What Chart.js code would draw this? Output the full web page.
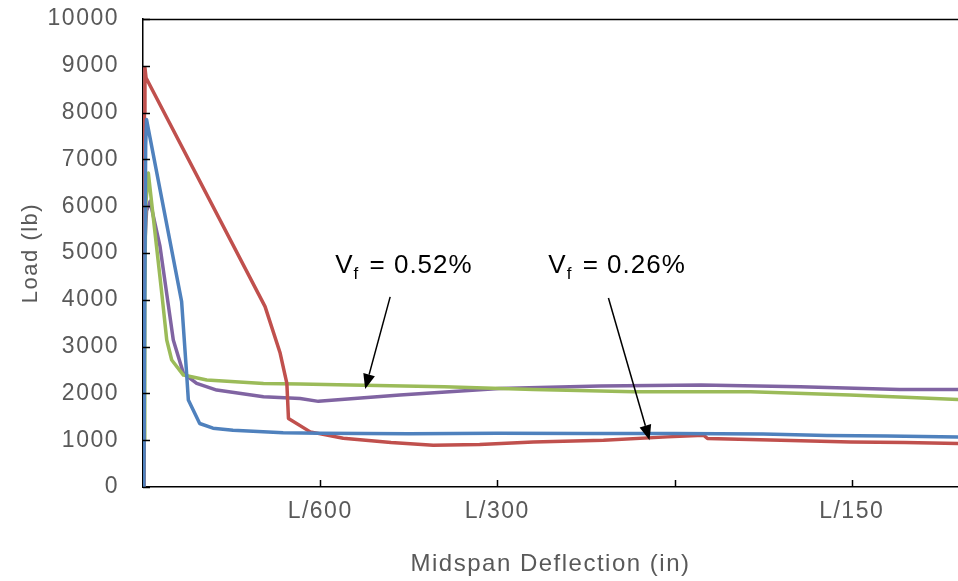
<!DOCTYPE html>
<html>
<head>
<meta charset="utf-8">
<script src="https://cdn.jsdelivr.net/npm/chart.js@4.4.1/dist/chart.umd.min.js"></script>
<style>
  html, body { margin: 0; padding: 0; background: #ffffff; }
  #wrap { width: 958px; height: 581px; position: relative; }
</style>
</head>
<body>
<div id="wrap"><canvas id="c" width="958" height="581"></canvas></div>
<script>
// ---- data (x in units of L/600 deflection, y in lb) ----
const blueX  = [0.005, 0.010, 0.015, 0.020, 0.218, 0.246, 0.256, 0.320, 0.395, 0.508, 0.791, 1.000, 1.500, 2.000, 2.500, 3.000, 3.500, 3.860, 4.200, 4.600];
const blueY  = [0, 4000, 7300, 7850, 3962, 2435, 1857, 1357, 1257, 1214, 1157, 1150, 1140, 1150, 1145, 1143, 1130, 1100, 1090, 1071];

const redX   = [0.003, 0.005, 0.008, 0.011, 0.017, 0.689, 0.774, 0.812, 0.821, 0.944, 1.130, 1.400, 1.638, 1.900, 2.203, 2.599, 2.960, 3.164, 3.186, 3.600, 3.994, 4.300, 4.600];
const redY   = [0, 4000, 8000, 8960, 8745, 3854, 2863, 2214, 1464, 1178, 1043, 950, 893, 910, 964, 1000, 1071, 1107, 1036, 1000, 964, 950, 929];

const greenX = [0.003, 0.006, 0.010, 0.015, 0.030, 0.106, 0.134, 0.162, 0.228, 0.360, 0.680, 0.887, 1.170, 1.700, 2.203, 2.770, 3.430, 3.990, 4.300, 4.600];
const greenY = [0, 1000, 4000, 6000, 6710, 4141, 3141, 2713, 2392, 2285, 2214, 2199, 2178, 2140, 2085, 2035, 2035, 1964, 1920, 1871];

const purpleX = [0.000, 0.003, 0.008, 0.020, 0.040, 0.096, 0.171, 0.228, 0.303, 0.416, 0.680, 0.887, 0.990, 1.450, 2.010, 2.580, 3.150, 3.710, 4.270, 4.600];
const purpleY = [0, 3000, 5000, 5900, 6103, 5139, 3141, 2428, 2214, 2071, 1927, 1892, 1830, 1964, 2107, 2157, 2178, 2142, 2085, 2085];

const xTickValues = [1, 2, 3, 4];
const xTickLabels = ['L/600', 'L/300', '', 'L/150'];
const yTickValues = [0, 1000, 2000, 3000, 4000, 5000, 6000, 7000, 8000, 9000, 10000];

const seriesNames = ['Blue', 'Red', 'Green', 'Purple'];
const annotationLabels = ['0.52%', '0.26%'];

function pts(xs, ys) { return xs.map((x, i) => ({ x: x, y: ys[i] })); }

const GRAY = '#595959';
const FONT = "'Liberation Sans', Arial, sans-serif";

// annotations (in data units)
const notes = [
  { tx: 1.085, ty: 4576, label: annotationLabels[0], ax0: 1.395, ay0: 4062, ax1: 1.254, ay1: 2092 },
  { tx: 2.288, ty: 4576, label: annotationLabels[1], ax0: 2.627, ay0: 4040, ax1: 2.859, ay1: 1000 }
];

const decor = {
  id: 'decor',
  beforeLayout(chart) { chart.ctx.letterSpacing = '1.5px'; },
  beforeDraw(chart) { chart.ctx.letterSpacing = '1.5px'; },
  afterDatasetsDraw(chart) {
    const ctx = chart.ctx, a = chart.chartArea;
    const xs = chart.scales.x, ys = chart.scales.y;
    ctx.save();
    ctx.letterSpacing = '0px';
    ctx.strokeStyle = '#000';
    ctx.lineWidth = 1.5;
    // top border
    ctx.beginPath();
    ctx.moveTo(a.left, a.top + 0.5);
    ctx.lineTo(a.right, a.top + 0.5);
    ctx.stroke();
    // y tick marks (inside)
    yTickValues.forEach(v => {
      const py = Math.round(ys.getPixelForValue(v)) + 0.5;
      ctx.beginPath(); ctx.moveTo(a.left, py); ctx.lineTo(a.left + 7, py); ctx.stroke();
    });
    // x tick marks (inside)
    xTickValues.forEach(v => {
      const px = Math.round(xs.getPixelForValue(v)) + 0.5;
      ctx.beginPath(); ctx.moveTo(px, a.bottom); ctx.lineTo(px, a.bottom - 7); ctx.stroke();
    });
    // annotations
    notes.forEach(n => {
      const tx = xs.getPixelForValue(n.tx), ty = ys.getPixelForValue(n.ty);
      ctx.fillStyle = '#000';
      ctx.textBaseline = 'alphabetic';
      ctx.textAlign = 'left';
      ctx.letterSpacing = '1px';
      ctx.font = '26px ' + FONT;
      ctx.fillText('V', tx, ty);
      let w = ctx.measureText('V').width;
      ctx.font = '17px ' + FONT;
      ctx.fillText('f', tx + w, ty + 6);
      w += ctx.measureText('f').width + 2;
      ctx.font = '26px ' + FONT;
      ctx.fillText(' = ' + n.label, tx + w, ty);
      ctx.letterSpacing = '0px';
      // arrow
      const x0 = xs.getPixelForValue(n.ax0), y0 = ys.getPixelForValue(n.ay0);
      const x1 = xs.getPixelForValue(n.ax1), y1 = ys.getPixelForValue(n.ay1);
      const ang = Math.atan2(y1 - y0, x1 - x0);
      const hl = 15, hw = 6;
      const bx = x1 - hl * Math.cos(ang), by = y1 - hl * Math.sin(ang);
      ctx.strokeStyle = '#000';
      ctx.lineWidth = 1.5;
      ctx.beginPath(); ctx.moveTo(x0, y0); ctx.lineTo(bx, by); ctx.stroke();
      ctx.beginPath();
      ctx.moveTo(x1, y1);
      ctx.lineTo(bx + hw * Math.sin(ang), by - hw * Math.cos(ang));
      ctx.lineTo(bx - hw * Math.sin(ang), by + hw * Math.cos(ang));
      ctx.closePath();
      ctx.fillStyle = '#000';
      ctx.fill();
    });
    ctx.restore();
  }
};

new Chart(document.getElementById('c'), {
  type: 'line',
  data: {
    datasets: [
      { label: seriesNames[0], data: pts(blueX, blueY), borderColor: '#4F81BD' },
      { label: seriesNames[1], data: pts(redX, redY), borderColor: '#C0504D' },
      { label: seriesNames[2], data: pts(greenX, greenY), borderColor: '#9BBB59' },
      { label: seriesNames[3], data: pts(purpleX, purpleY), borderColor: '#8064A2' }
    ]
  },
  options: {
    responsive: false,
    animation: false,
    parsing: true,
    layout: { padding: { top: 19, right: 0, bottom: 0, left: 0 } },
    elements: {
      point: { radius: 0, hoverRadius: 0 },
      line: { borderWidth: 3.5, tension: 0, fill: false, borderJoinStyle: 'round', borderCapStyle: 'round' }
    },
    plugins: { legend: { display: false }, tooltip: { enabled: false } },
    scales: {
      x: {
        type: 'linear', min: 0, max: 4.6,
        grid: { display: false, drawTicks: false },
        border: { display: true, color: '#000', width: 1.5 },
        afterBuildTicks(scale) { scale.ticks = xTickValues.map(v => ({ value: v })); },
        ticks: {
          autoSkip: false, maxRotation: 0, padding: 11, color: GRAY,
          font: { family: FONT, size: 23 },
          callback(v) { const i = xTickValues.indexOf(v); return i >= 0 ? xTickLabels[i] : ''; }
        },
        title: { display: true, text: 'Midspan Deflection (in)', color: GRAY, font: { family: FONT, size: 24 }, padding: { top: 30, bottom: 2 } },
        afterFit(scale) { scale.height = 94; scale.paddingLeft = 0; scale.paddingRight = 0; }
      },
      y: {
        type: 'linear', min: 0, max: 10000,
        grid: { display: false, drawTicks: false },
        border: { display: true, color: '#000', width: 1.5 },
        afterBuildTicks(scale) { scale.ticks = yTickValues.map(v => ({ value: v })); },
        ticks: { color: GRAY, padding: 24, font: { family: FONT, size: 23 }, callback(v) { return String(v); } },
        title: { display: true, text: 'Load (lb)', color: GRAY, font: { family: FONT, size: 22 }, padding: { top: 18, bottom: 0 } },
        afterFit(scale) { scale.width = 143; scale.paddingTop = 0; scale.paddingBottom = 0; }
      }
    }
  },
  plugins: [decor]
});
</script>
</body>
</html>
